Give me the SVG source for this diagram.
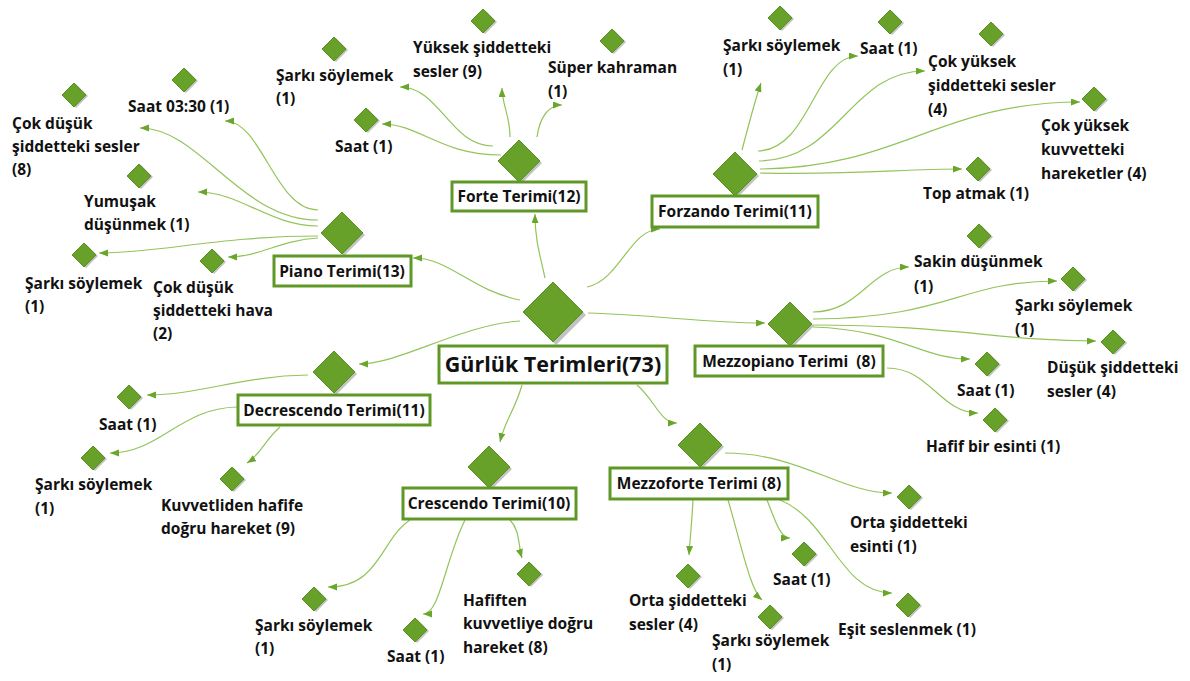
<svg xmlns="http://www.w3.org/2000/svg" width="1190" height="681" viewBox="0 0 1190 681">
<style>
.d{fill:#67a12a;stroke:#5b9023;stroke-width:1}
.sh{fill:#9a9a9a;opacity:0.6}
.box{fill:#fff;stroke:#5f9827;stroke-width:3}
.c{fill:none;stroke:#93c45a;stroke-width:1.2;marker-end:url(#ah)}
text{font-family:"Open Sans","Liberation Sans",sans-serif;font-weight:700;fill:#111}
.l{font-size:15.5px}
.b{font-size:15.5px;text-anchor:middle}
.m{font-size:21.5px;text-anchor:middle}
</style>
<defs>
<marker id="ah" markerUnits="userSpaceOnUse" markerWidth="10" markerHeight="8" refX="9" refY="3.5" orient="auto">
<path d="M0,0 L9,3.5 L0,7 z" fill="#6aa52c"/>
</marker>
</defs>
<rect width="1190" height="681" fill="#fff"/>
<g id="connectors">
<path class="c" d="M520,300 C470,290 450,258 413,258"/>
<path class="c" d="M545,278 C540,255 535,240 535,214"/>
<path class="c" d="M587,287 C620,280 630,229 660,229"/>
<path class="c" d="M588,313 C660,315 700,323 765,323"/>
<path class="c" d="M520,321 C460,325 400,364 359,364"/>
<path class="c" d="M522,385 C515,410 505,420 500,442"/>
<path class="c" d="M637,385 C655,400 660,423 677,423"/>
<path class="c" d="M318,210 C275,210 262,121 225,121"/>
<path class="c" d="M318,220 C240,220 200,128 140,128"/>
<path class="c" d="M318,226 C270,226 240,192 198,192"/>
<path class="c" d="M318,236 C220,236 160,253 99,253"/>
<path class="c" d="M318,238 C280,240 260,257 228,257"/>
<path class="c" d="M493,146 C450,146 440,87 400,87"/>
<path class="c" d="M501,155 C440,155 420,124 382,124"/>
<path class="c" d="M510,137 C510,115 502,105 502,88"/>
<path class="c" d="M537,137 C540,115 550,105 562,105"/>
<path class="c" d="M742,150 C750,120 755,100 761,83"/>
<path class="c" d="M758,151 C810,150 815,56 858,56"/>
<path class="c" d="M759,161 C840,160 850,71 925,71"/>
<path class="c" d="M760,169 C900,168 940,102 1080,102"/>
<path class="c" d="M760,173 C860,175 900,169 962,169"/>
<path class="c" d="M813,312 C860,312 870,267 909,267"/>
<path class="c" d="M813,319 C950,318 960,281 1057,281"/>
<path class="c" d="M813,325 C950,325 1000,341 1096,341"/>
<path class="c" d="M813,327 C900,330 920,359 970,359"/>
<path class="c" d="M887,368 C930,368 940,413 978,413"/>
<path class="c" d="M308,375 C240,376 200,395 147,395"/>
<path class="c" d="M237,407 C180,408 160,453 110,453"/>
<path class="c" d="M280,427 C265,440 260,455 247,463"/>
<path class="c" d="M410,520 C380,540 380,587 328,587"/>
<path class="c" d="M465,520 C445,560 440,614 423,614"/>
<path class="c" d="M510,520 C520,530 518,545 522,558"/>
<path class="c" d="M725,453 C800,453 840,493 892,493"/>
<path class="c" d="M780,500 C830,520 840,593 892,593"/>
<path class="c" d="M767,500 C775,520 780,538 790,538"/>
<path class="c" d="M693,500 C692,520 690,540 689,555"/>
<path class="c" d="M728,500 C740,540 750,590 762,600"/>
</g>
<g id="n-center">
<polygon class="sh" points="556,285 586,315 556,345 526,315"/>
<polygon class="d" points="553,282 583,312 553,342 523,312"/>
<rect class="box" x="439" y="346" width="228" height="37"/>
<text class="m" x="553" y="372">Gürlük Terimleri(73)</text>
</g>
<g id="n-piano">
<polygon class="sh" points="344,214 365,235 344,256 323,235"/>
<polygon class="d" points="342,212 363,233 342,254 321,233"/>
<rect class="box" x="274" y="256" width="137" height="30"/>
<text class="b" x="342" y="277">Piano Terimi(13)</text>
</g>
<g id="n-forte">
<polygon class="sh" points="521,142 542,163 521,184 500,163"/>
<polygon class="d" points="519,140 540,161 519,182 498,161"/>
<rect class="box" x="452" y="182" width="134" height="29"/>
<text class="b" x="519" y="202">Forte Terimi(12)</text>
</g>
<g id="n-forzando">
<polygon class="sh" points="737,154 759,176 737,198 715,176"/>
<polygon class="d" points="735,152 757,174 735,196 713,174"/>
<rect class="box" x="652" y="196" width="166" height="31"/>
<text class="b" x="735" y="217">Forzando Terimi(11)</text>
</g>
<g id="n-mezzopiano">
<polygon class="sh" points="792,304 814,326 792,348 770,326"/>
<polygon class="d" points="790,302 812,324 790,346 768,324"/>
<rect class="box" x="695" y="346" width="188" height="30"/>
<text class="b" x="789" y="367" xml:space="preserve">Mezzopiano Terimi  (8)</text>
</g>
<g id="n-decrescendo">
<polygon class="sh" points="336,353 357,374 336,395 315,374"/>
<polygon class="d" points="334,351 355,372 334,393 313,372"/>
<rect class="box" x="238" y="395" width="192" height="30"/>
<text class="b" x="334" y="416">Decrescendo Terimi(11)</text>
</g>
<g id="n-crescendo">
<polygon class="sh" points="491,448 512,469 491,490 470,469"/>
<polygon class="d" points="489,446 510,467 489,488 468,467"/>
<rect class="box" x="403" y="488" width="173" height="31"/>
<text class="b" x="489" y="509">Crescendo Terimi(10)</text>
</g>
<g id="n-mezzoforte">
<polygon class="sh" points="702,425 724,447 702,469 680,447"/>
<polygon class="d" points="700,423 722,445 700,467 678,445"/>
<rect class="box" x="610" y="468" width="178" height="31"/>
<text class="b" x="699" y="489">Mezzoforte Terimi (8)</text>
</g>
<g id="l1"><polygon class="sh" points="76,84 88,96 76,108 64,96"/><polygon class="d" points="74,83 86,95 74,107 62,95"/>
<text class="l" x="12" y="129">Çok düşük</text><text class="l" x="12" y="152">şiddetteki sesler</text><text class="l" x="12" y="175">(8)</text></g>
<g id="l2"><polygon class="sh" points="186,69 198,81 186,93 174,81"/><polygon class="d" points="184,68 196,80 184,92 172,80"/>
<text class="l" x="128" y="112">Saat 03:30 (1)</text></g>
<g id="l3"><polygon class="sh" points="141,165 153,177 141,189 129,177"/><polygon class="d" points="139,164 151,176 139,188 127,176"/>
<text class="l" x="84" y="207">Yumuşak</text><text class="l" x="84" y="230">düşünmek (1)</text></g>
<g id="l4"><polygon class="sh" points="86,244 98,256 86,268 74,256"/><polygon class="d" points="84,243 96,255 84,267 72,255"/>
<text class="l" x="25" y="289">Şarkı söylemek</text><text class="l" x="25" y="312">(1)</text></g>
<g id="l5"><polygon class="sh" points="214,250 226,262 214,274 202,262"/><polygon class="d" points="212,249 224,261 212,273 200,261"/>
<text class="l" x="153" y="293">Çok düşük</text><text class="l" x="153" y="316">şiddetteki hava</text><text class="l" x="153" y="339">(2)</text></g>
<g id="l6"><polygon class="sh" points="336,38 348,50 336,62 324,50"/><polygon class="d" points="334,37 346,49 334,61 322,49"/>
<text class="l" x="276" y="81">Şarkı söylemek</text><text class="l" x="276" y="104">(1)</text></g>
<g id="l7"><polygon class="sh" points="368,109 380,121 368,133 356,121"/><polygon class="d" points="366,108 378,120 366,132 354,120"/>
<text class="l" x="335" y="152">Saat (1)</text></g>
<g id="l8"><polygon class="sh" points="485,10 497,22 485,34 473,22"/><polygon class="d" points="483,9 495,21 483,33 471,21"/>
<text class="l" x="413" y="53">Yüksek şiddetteki</text><text class="l" x="413" y="77">sesler (9)</text></g>
<g id="l9"><polygon class="sh" points="614,30 626,42 614,54 602,42"/><polygon class="d" points="612,29 624,41 612,53 600,41"/>
<text class="l" x="548" y="73">Süper kahraman</text><text class="l" x="548" y="97">(1)</text></g>
<g id="l10"><polygon class="sh" points="782,7 794,19 782,31 770,19"/><polygon class="d" points="780,6 792,18 780,30 768,18"/>
<text class="l" x="723" y="51">Şarkı söylemek</text><text class="l" x="723" y="75">(1)</text></g>
<g id="l11"><polygon class="sh" points="892,11 904,23 892,35 880,23"/><polygon class="d" points="890,10 902,22 890,34 878,22"/>
<text class="l" x="860" y="54">Saat (1)</text></g>
<g id="l12"><polygon class="sh" points="993,23 1005,35 993,47 981,35"/><polygon class="d" points="991,22 1003,34 991,46 979,34"/>
<text class="l" x="928" y="67">Çok yüksek</text><text class="l" x="928" y="91">şiddetteki sesler</text><text class="l" x="928" y="115">(4)</text></g>
<g id="l13"><polygon class="sh" points="1096,88 1108,100 1096,112 1084,100"/><polygon class="d" points="1094,87 1106,99 1094,111 1082,99"/>
<text class="l" x="1041" y="131">Çok yüksek</text><text class="l" x="1041" y="155">kuvvetteki</text><text class="l" x="1041" y="179">hareketler (4)</text></g>
<g id="l14"><polygon class="sh" points="980,158 992,170 980,182 968,170"/><polygon class="d" points="978,157 990,169 978,181 966,169"/>
<text class="l" x="923" y="199">Top atmak (1)</text></g>
<g id="l15"><polygon class="sh" points="981,225 993,237 981,249 969,237"/><polygon class="d" points="979,224 991,236 979,248 967,236"/>
<text class="l" x="914" y="267">Sakin düşünmek</text><text class="l" x="914" y="292">(1)</text></g>
<g id="l16"><polygon class="sh" points="1075,268 1087,280 1075,292 1063,280"/><polygon class="d" points="1073,267 1085,279 1073,291 1061,279"/>
<text class="l" x="1015" y="311">Şarkı söylemek</text><text class="l" x="1015" y="335">(1)</text></g>
<g id="l17"><polygon class="sh" points="1115,331 1127,343 1115,355 1103,343"/><polygon class="d" points="1113,330 1125,342 1113,354 1101,342"/>
<text class="l" x="1047" y="373">Düşük şiddetteki</text><text class="l" x="1047" y="397">sesler (4)</text></g>
<g id="l18"><polygon class="sh" points="989,353 1001,365 989,377 977,365"/><polygon class="d" points="987,352 999,364 987,376 975,364"/>
<text class="l" x="957" y="396">Saat (1)</text></g>
<g id="l19"><polygon class="sh" points="997,409 1009,421 997,433 985,421"/><polygon class="d" points="995,408 1007,420 995,432 983,420"/>
<text class="l" x="926" y="452">Hafif bir esinti (1)</text></g>
<g id="l20"><polygon class="sh" points="131,386 143,398 131,410 119,398"/><polygon class="d" points="129,385 141,397 129,409 117,397"/>
<text class="l" x="99" y="430">Saat (1)</text></g>
<g id="l21"><polygon class="sh" points="95,447 107,459 95,471 83,459"/><polygon class="d" points="93,446 105,458 93,470 81,458"/>
<text class="l" x="35" y="490">Şarkı söylemek</text><text class="l" x="35" y="514">(1)</text></g>
<g id="l22"><polygon class="sh" points="234,468 246,480 234,492 222,480"/><polygon class="d" points="232,467 244,479 232,491 220,479"/>
<text class="l" x="161" y="511">Kuvvetliden hafife</text><text class="l" x="161" y="534">doğru hareket (9)</text></g>
<g id="l23"><polygon class="sh" points="316,588 328,600 316,612 304,600"/><polygon class="d" points="314,587 326,599 314,611 302,599"/>
<text class="l" x="255" y="631">Şarkı söylemek</text><text class="l" x="255" y="654">(1)</text></g>
<g id="l24"><polygon class="sh" points="417,619 429,631 417,643 405,631"/><polygon class="d" points="415,618 427,630 415,642 403,630"/>
<text class="l" x="387" y="662">Saat (1)</text></g>
<g id="l25"><polygon class="sh" points="531,563 543,575 531,587 519,575"/><polygon class="d" points="529,562 541,574 529,586 517,574"/>
<text class="l" x="463" y="606">Hafiften</text><text class="l" x="463" y="629">kuvvetliye doğru</text><text class="l" x="463" y="653">hareket (8)</text></g>
<g id="l26"><polygon class="sh" points="911,486 923,498 911,510 899,498"/><polygon class="d" points="909,485 921,497 909,509 897,497"/>
<text class="l" x="850" y="528">Orta şiddetteki</text><text class="l" x="850" y="552">esinti (1)</text></g>
<g id="l27"><polygon class="sh" points="806,543 818,555 806,567 794,555"/><polygon class="d" points="804,542 816,554 804,566 792,554"/>
<text class="l" x="773" y="585">Saat (1)</text></g>
<g id="l28"><polygon class="sh" points="910,594 922,606 910,618 898,606"/><polygon class="d" points="908,593 920,605 908,617 896,605"/>
<text class="l" x="838" y="635">Eşit seslenmek (1)</text></g>
<g id="l29"><polygon class="sh" points="690,565 702,577 690,589 678,577"/><polygon class="d" points="688,564 700,576 688,588 676,576"/>
<text class="l" x="629" y="606">Orta şiddetteki</text><text class="l" x="629" y="630">sesler (4)</text></g>
<g id="l30"><polygon class="sh" points="772,606 784,618 772,630 760,618"/><polygon class="d" points="770,605 782,617 770,629 758,617"/>
<text class="l" x="712" y="646">Şarkı söylemek</text><text class="l" x="712" y="670">(1)</text></g>
</svg>
